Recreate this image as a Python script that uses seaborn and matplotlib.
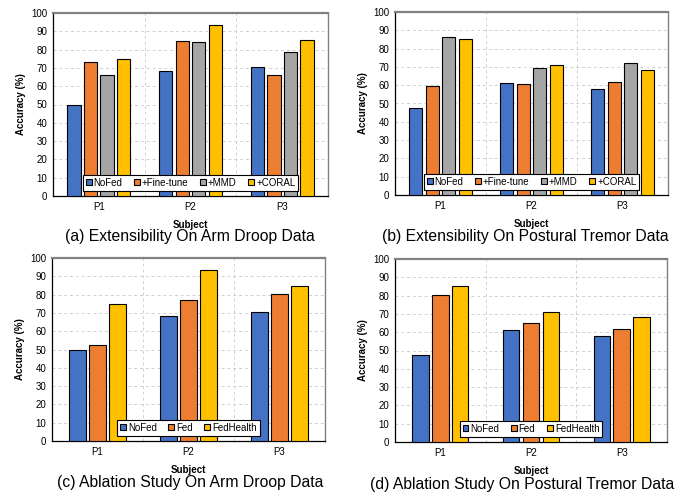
import matplotlib
matplotlib.use('Agg')
import matplotlib.pyplot as plt
import seaborn as sns
import pandas as pd

subjects = ['P1', 'P2', 'P3']

ext_methods = ['NoFed', '+Fine-tune', '+MMD', '+CORAL']
ext_arm = {
    'NoFed': [49.6, 68.5, 70.4],
    '+Fine-tune': [73.2, 84.5, 66.0],
    '+MMD': [66.0, 84.2, 78.5],
    '+CORAL': [75.1, 93.4, 85.1],
}
ext_tremor = {
    'NoFed': [47.4, 61.1, 58.0],
    '+Fine-tune': [59.7, 60.4, 61.5],
    '+MMD': [86.2, 69.5, 72.4],
    '+CORAL': [85.3, 70.8, 68.4],
}

abl_methods = ['NoFed', 'Fed', 'FedHealth']
abl_arm = {
    'NoFed': [49.5, 68.5, 70.3],
    'Fed': [52.3, 77.3, 80.4],
    'FedHealth': [75.0, 93.3, 84.8],
}
abl_tremor = {
    'NoFed': [47.4, 61.1, 58.1],
    'Fed': [80.5, 64.8, 61.5],
    'FedHealth': [85.3, 70.9, 68.5],
}

captions = ['(a) Extensibility On Arm Droop Data',
            '(b) Extensibility On Postural Tremor Data',
            '(c) Ablation Study On Arm Droop Data',
            '(d) Ablation Study On Postural Tremor Data']

ext_colors = ['#4472C4', '#ED7D31', '#A5A5A5', '#FFC000']
abl_colors = ['#4472C4', '#ED7D31', '#FFC000']

W, H = 683, 495
fig = plt.figure(figsize=(W / 100, H / 100), dpi=100)
plt.rcParams['font.family'] = ['Liberation Sans', 'DejaVu Sans']


def to_long(d, methods):
    rows = []
    for m in methods:
        for s, v in zip(subjects, d[m]):
            rows.append({'Subject': s, 'Method': m, 'Accuracy': v})
    return pd.DataFrame(rows)


def panel(box, d, methods, pal, width, gap, caption, cap_xy):
    l, t, r, b = box
    ax = fig.add_axes([l / W, 1 - b / H, (r - l) / W, (b - t) / H])
    df = to_long(d, methods)
    sns.barplot(data=df, x='Subject', y='Accuracy', hue='Method', hue_order=methods,
                palette=pal, saturation=1, width=width, gap=gap,
                edgecolor='black', linewidth=0.8, ax=ax, zorder=3)
    ax.set_ylim(0, 100)
    ax.set_xlim(-0.5, 2.5)
    ax.set_yticks(range(0, 101, 10))
    ax.yaxis.grid(True, linestyle=(0, (3, 3)), color='#d0d0d0', linewidth=0.7, zorder=0)
    for xv in [0.5, 1.5]:
        ax.axvline(xv, linestyle=(0, (3, 3)), color='#d0d0d0', linewidth=0.7, zorder=0)
    ax.tick_params(axis='both', labelsize=7, length=0, pad=4)
    ax.set_xlabel('Subject', fontsize=7, fontweight='bold', labelpad=6)
    ax.set_ylabel('Accuracy (%)', fontsize=7, fontweight='bold', labelpad=4)
    for side in ['top', 'right']:
        ax.spines[side].set_color('#808080')
        ax.spines[side].set_linewidth(1.0)
    for side in ['left', 'bottom']:
        ax.spines[side].set_color('#000000')
        ax.spines[side].set_linewidth(0.9)
    ax.spines['top'].set_linewidth(1.6)
    handles, labels = ax.get_legend_handles_labels()
    leg = ax.legend(handles, labels, loc='lower center', bbox_to_anchor=(0.5, 0.03),
                    ncol=len(methods), fontsize=7, frameon=True, fancybox=False,
                    handlelength=0.6, handleheight=0.6, handletextpad=0.2,
                    columnspacing=1.2, borderpad=0.3, borderaxespad=0)
    leg.get_frame().set_edgecolor('black')
    leg.get_frame().set_linewidth(0.8)
    leg.get_frame().set_alpha(1)
    leg.set_zorder(5)
    fig.text(cap_xy[0] / W, 1 - cap_xy[1] / H, caption, ha='center', va='center', fontsize=11.3)
    return ax


panel((53, 13, 328, 196), ext_arm, ext_methods, ext_colors, 0.72, 0.2, captions[0], (190, 237))
panel((395, 12, 668, 195), ext_tremor, ext_methods, ext_colors, 0.72, 0.2, captions[1], (525, 237))
panel((52, 258, 325, 441), abl_arm, abl_methods, abl_colors, 0.66, 0.18, captions[2], (190, 483))
panel((395, 259, 667, 442), abl_tremor, abl_methods, abl_colors, 0.66, 0.18, captions[3], (522, 484))

fig.savefig('out.png', dpi=100)
